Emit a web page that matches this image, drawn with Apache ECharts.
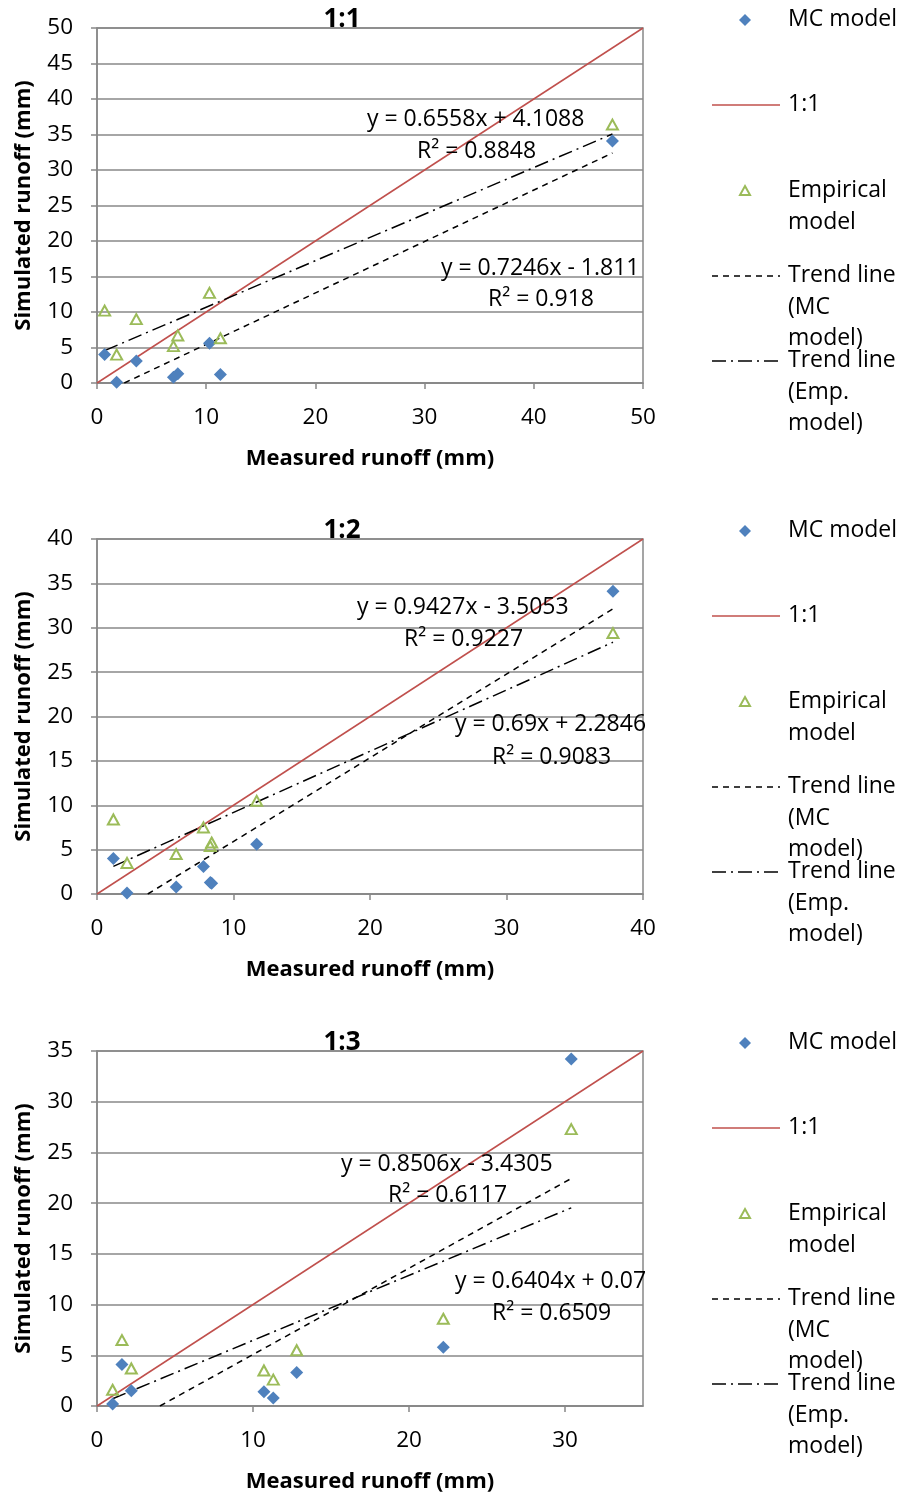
<!DOCTYPE html>
<html>
<head>
<meta charset="utf-8">
<script src="https://cdn.jsdelivr.net/npm/echarts@6/dist/echarts.min.js"></script>
<style>
  html, body { margin: 0; padding: 0; background: #fff; }
  #chart { width: 902px; height: 1494px; }
</style>
</head>
<body>
<div id="chart"></div>
<script>
// Panel titles (slope ratio) and axis ranges
const panelTitles = ['1:1', '1:2', '1:3'];
const axisMax = [50, 40, 35];

// Measured runoff (mm) per panel
const measured1 = [0.7, 1.8, 3.6, 7.0, 7.4, 10.3, 11.3, 47.2];
const measured2 = [1.2, 2.2, 5.8, 7.8, 8.3, 8.4, 11.7, 37.8];
const measured3 = [1.0, 1.6, 2.2, 10.7, 11.3, 12.8, 22.2, 30.4];

// Simulated runoff (mm), MC model
const mcSim1 = [4.0, 0.1, 3.1, 0.8, 1.3, 5.6, 1.2, 34.1];
const mcSim2 = [4.0, 0.1, 0.8, 3.1, 1.3, 1.2, 5.6, 34.1];
const mcSim3 = [0.2, 4.1, 1.5, 1.4, 0.8, 3.3, 5.8, 34.2];

// Simulated runoff (mm), empirical model
const empSim1 = [10.2, 4.0, 9.0, 5.2, 6.7, 12.7, 6.3, 36.4];
const empSim2 = [8.4, 3.5, 4.5, 7.5, 5.4, 5.8, 10.5, 29.4];
const empSim3 = [1.6, 6.5, 3.7, 3.5, 2.6, 5.5, 8.6, 27.3];

// Linear trend line coefficients and R²
const mcSlope = [0.7246, 0.9427, 0.8506];
const mcIntercept = [-1.811, -3.5053, -3.4305];
const mcR2 = ['0.918', '0.9227', '0.6117'];
const empSlope = [0.6558, 0.69, 0.6404];
const empIntercept = [4.1088, 2.2846, 0.07];
const empR2 = ['0.8848', '0.9083', '0.6509'];

// Legend entries
const legendLabels = ['MC model', '1:1', 'Empirical\nmodel', 'Trend line\n(MC\nmodel)', 'Trend line\n(Emp.\nmodel)'];

const measured = [measured1, measured2, measured3];
const mcSim = [mcSim1, mcSim2, mcSim3];
const empSim = [empSim1, empSim2, empSim3];

const FONT = '"Open Sans", "Noto Sans", sans-serif';
const BLUE = '#4F81BD';
const GREEN = '#9BBB59';
const RED = '#C0504D';
const GRID_GRAY = '#888888';

const plotLeft = 97, plotWidth = 546;
const plotTops = [28, 539, 1051];
const plotHeight = 355;

function pairs(xs, ys) { return xs.map((x, i) => [x, ys[i]]); }

// Trend line segment spanning the measured range, clipped at y = 0
function trend(xs, a, b) {
  let x0 = Math.min(...xs), x1 = Math.max(...xs);
  if (a * x0 + b < 0) x0 = -b / a;
  return [[x0, a * x0 + b], [x1, a * x1 + b]];
}
function eqText(a, b) {
  return 'y = ' + a + 'x ' + (b < 0 ? '- ' : '+ ') + Math.abs(b);
}

const grids = [], xAxes = [], yAxes = [], series = [], graphics = [];
// Equation label anchors: [equation x, equation y, R² x, R² y]
const eqPos = [
  { emp: [367, 119, 417, 151], mc: [441, 268, 488, 299] },
  { emp: [455, 724, 492, 757], mc: [357, 607, 404, 639] },
  { emp: [455, 1281, 492, 1313], mc: [341, 1164, 388, 1195] }
];

panelTitles.forEach((t, p) => {
  grids.push({
    left: plotLeft, top: plotTops[p], width: plotWidth, height: plotHeight,
    show: true, borderColor: GRID_GRAY, borderWidth: 1.5, backgroundColor: 'transparent'
  });
  const labelStyle = { fontFamily: FONT, fontSize: 22.5, color: '#000' };
  const nameStyle = { fontFamily: FONT, fontSize: 22, fontWeight: 'bold', color: '#000' };
  xAxes.push({
    type: 'value', gridIndex: p, min: 0, max: axisMax[p], interval: 10,
    name: 'Measured runoff (mm)', nameLocation: 'middle', nameGap: 65, nameTextStyle: nameStyle,
    axisLine: { show: true, lineStyle: { color: GRID_GRAY, width: 1.5 } },
    axisTick: { show: true, length: 6, lineStyle: { color: GRID_GRAY, width: 1.5 } },
    axisLabel: Object.assign({ margin: 23, showMaxLabel: axisMax[p] % 10 === 0 }, labelStyle),
    splitLine: { show: false }
  });
  yAxes.push({
    type: 'value', gridIndex: p, min: 0, max: axisMax[p], interval: 5,
    name: 'Simulated runoff (mm)', nameLocation: 'middle', nameGap: 62, nameTextStyle: nameStyle,
    axisLine: { show: true, lineStyle: { color: GRID_GRAY, width: 1.5 } },
    axisTick: { show: true, length: 6, lineStyle: { color: GRID_GRAY, width: 1.5 } },
    axisLabel: Object.assign({ margin: 24 }, labelStyle),
    splitLine: { show: true, lineStyle: { color: GRID_GRAY, width: 1.5 } }
  });

  // 1:1 reference line
  series.push({
    type: 'line', xAxisIndex: p, yAxisIndex: p, symbol: 'none', silent: true,
    data: [[0, 0], [axisMax[p], axisMax[p]]],
    lineStyle: { color: RED, width: 1.5 }, z: 2
  });
  // Trend lines
  series.push({
    type: 'line', xAxisIndex: p, yAxisIndex: p, symbol: 'none', silent: true,
    data: trend(measured[p], mcSlope[p], mcIntercept[p]),
    lineStyle: { color: '#000', width: 1.5, type: [6, 5] }, z: 3
  });
  series.push({
    type: 'line', xAxisIndex: p, yAxisIndex: p, symbol: 'none', silent: true,
    data: trend(measured[p], empSlope[p], empIntercept[p]),
    lineStyle: { color: '#000', width: 1.5, type: [14, 5, 2, 5] }, z: 3
  });
  // Points
  series.push({
    type: 'scatter', xAxisIndex: p, yAxisIndex: p, symbol: 'diamond', symbolSize: 13,
    data: pairs(measured[p], mcSim[p]),
    itemStyle: { color: BLUE, opacity: 1 }, z: 4
  });
  series.push({
    type: 'scatter', xAxisIndex: p, yAxisIndex: p, symbol: 'triangle', symbolSize: [11, 10],
    data: pairs(measured[p], empSim[p]),
    itemStyle: { color: 'rgba(255,255,255,0)', borderColor: GREEN, borderWidth: 2, opacity: 1 }, z: 5
  });

  const top = plotTops[p];
  // Panel title
  graphics.push({
    type: 'text', x: 342, y: top - 8, z: 10,
    style: { text: t, fontFamily: FONT, fontSize: 26, fontWeight: 'bold', fill: '#000', align: 'center', verticalAlign: 'middle' }
  });
  // Regression equations
  const eqFont = { fontFamily: FONT, fontSize: 23, fill: '#000', verticalAlign: 'middle' };
  const ep = eqPos[p];
  graphics.push({ type: 'text', x: ep.emp[0], y: ep.emp[1], z: 10,
    style: Object.assign({ text: eqText(empSlope[p], empIntercept[p]) }, eqFont) });
  graphics.push({ type: 'text', x: ep.emp[2], y: ep.emp[3], z: 10,
    style: Object.assign({ text: 'R² = ' + empR2[p] }, eqFont) });
  graphics.push({ type: 'text', x: ep.mc[0], y: ep.mc[1], z: 10,
    style: Object.assign({ text: eqText(mcSlope[p], mcIntercept[p]) }, eqFont) });
  graphics.push({ type: 'text', x: ep.mc[2], y: ep.mc[3], z: 10,
    style: Object.assign({ text: 'R² = ' + mcR2[p] }, eqFont) });

  // Legend
  const off = top - 28;
  const rowY = [20, 105, 191, 276, 361];
  const legFont = { fontFamily: FONT, fontSize: 23, fill: '#000', lineHeight: 31.5, verticalAlign: 'top' };
  legendLabels.forEach((lab, i) => {
    graphics.push({ type: 'text', x: 788, y: off + rowY[i] - 16, z: 10,
      style: Object.assign({ text: lab }, legFont) });
  });
  graphics.push({ type: 'polygon', z: 10, shape: { points: [[745, off + 14], [751, off + 20], [745, off + 26], [739, off + 20]] },
    style: { fill: BLUE } });
  graphics.push({ type: 'line', z: 10, shape: { x1: 712, y1: off + 105, x2: 780, y2: off + 105 },
    style: { stroke: RED, lineWidth: 1.5 } });
  graphics.push({ type: 'polygon', z: 10, shape: { points: [[745, off + 186], [750, off + 195], [740, off + 195]] },
    style: { fill: 'none', stroke: GREEN, lineWidth: 2 } });
  graphics.push({ type: 'line', z: 10, shape: { x1: 712, y1: off + 276, x2: 780, y2: off + 276 },
    style: { stroke: '#000', lineWidth: 1.5, lineDash: [6, 5] } });
  graphics.push({ type: 'line', z: 10, shape: { x1: 712, y1: off + 361, x2: 780, y2: off + 361 },
    style: { stroke: '#000', lineWidth: 1.5, lineDash: [14, 5, 2, 5] } });
});

const chart = echarts.init(document.getElementById('chart'), null, { renderer: 'canvas' });
chart.setOption({
  animation: false,
  backgroundColor: '#fff',
  grid: grids,
  xAxis: xAxes,
  yAxis: yAxes,
  series: series,
  graphic: graphics
});
</script>
</body>
</html>
